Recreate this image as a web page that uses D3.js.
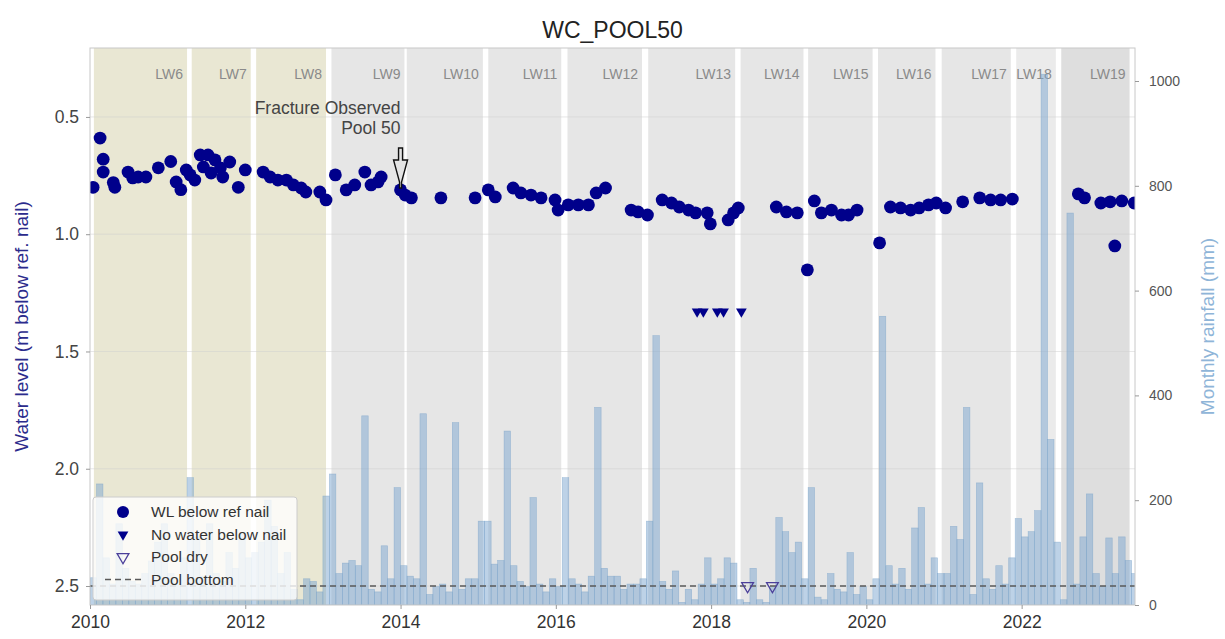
<!DOCTYPE html>
<html>
<head>
<meta charset="utf-8">
<script src="https://cdn.jsdelivr.net/npm/d3@7"></script>
<style>
  body { margin: 0; background: #fff; font-family: "Liberation Sans", Arial, sans-serif; }
</style>
</head>
<body>
<div id="chart"></div>
<script>
"use strict";

// longwall panels (decimal years)
const lwNames = ["LW6", "LW7", "LW8", "LW9", "LW10", "LW11", "LW12", "LW13", "LW14", "LW15", "LW16", "LW17", "LW18", "LW19"];
const lwStart = [2010.05, 2011.31, 2012.14, 2013.11, 2014.08, 2015.13, 2016.15, 2017.19, 2018.38, 2019.25, 2020.15, 2020.97, 2021.93, 2022.51];
const lwEnd   = [2011.25, 2012.07, 2013.04, 2014.05, 2015.06, 2016.07, 2017.11, 2018.31, 2019.19, 2020.08, 2020.89, 2021.86, 2022.44, 2023.39];

// water level below reference nail (m)
const wlDates = [2010.04, 2010.13, 2010.17, 2010.17, 2010.30, 2010.32, 2010.49, 2010.55, 2010.62, 2010.72, 2010.88,
  2011.04, 2011.11, 2011.17, 2011.24, 2011.29, 2011.35, 2011.42, 2011.46, 2011.52, 2011.56, 2011.61, 2011.68, 2011.71, 2011.80, 2011.91,
  2012.00, 2012.23, 2012.32, 2012.42, 2012.53, 2012.62, 2012.72, 2012.78, 2012.96, 2013.04, 2013.16, 2013.30, 2013.41, 2013.54, 2013.62, 2013.71, 2013.75,
  2014.00, 2014.06, 2014.14, 2014.52, 2014.96, 2015.13, 2015.22, 2015.45, 2015.55, 2015.68, 2015.81, 2015.99,
  2016.03, 2016.16, 2016.29, 2016.42, 2016.52, 2016.64, 2016.97, 2017.06, 2017.18, 2017.37, 2017.49, 2017.59, 2017.71, 2017.80, 2017.95, 2017.99,
  2018.22, 2018.29, 2018.35, 2018.84, 2018.97, 2019.11, 2019.24, 2019.33, 2019.42, 2019.55, 2019.68, 2019.77, 2019.88,
  2020.17, 2020.31, 2020.44, 2020.57, 2020.68, 2020.80, 2020.90, 2021.02, 2021.24, 2021.46, 2021.60, 2021.73, 2021.88,
  2022.73, 2022.81, 2023.02, 2023.14, 2023.20, 2023.29, 2023.45];
const wlValues = [0.80, 0.59, 0.68, 0.735, 0.78, 0.80, 0.735, 0.76, 0.756, 0.756, 0.717,
  0.69, 0.777, 0.81, 0.726, 0.747, 0.769, 0.662, 0.713, 0.662, 0.739, 0.683, 0.717, 0.756, 0.692, 0.80,
  0.726, 0.735, 0.756, 0.769, 0.769, 0.79, 0.803, 0.82, 0.82, 0.854, 0.747, 0.811, 0.79, 0.735, 0.79, 0.777, 0.756,
  0.811, 0.833, 0.845, 0.845, 0.845, 0.811, 0.841, 0.803, 0.824, 0.833, 0.845, 0.854,
  0.897, 0.875, 0.875, 0.875, 0.824, 0.803, 0.897, 0.905, 0.918, 0.854, 0.867, 0.884, 0.897, 0.909, 0.909, 0.956,
  0.939, 0.909, 0.888, 0.884, 0.905, 0.909, 1.152, 0.858, 0.909, 0.897, 0.918, 0.918, 0.897,
  1.037, 0.884, 0.888, 0.897, 0.888, 0.875, 0.867, 0.888, 0.862, 0.845, 0.854, 0.854, 0.850,
  0.828, 0.845, 0.867, 0.862, 1.050, 0.858, 0.867];

// no water below nail
const noWaterDates = [2017.82, 2017.90, 2018.08, 2018.16, 2018.39];
const noWaterValues = [1.33, 1.33, 1.33, 1.33, 1.33];

// pool dry
const poolDryDates = [2018.47, 2018.79];
const poolDryValues = [2.5, 2.5];

const poolBottom = 2.5;

// fracture observation
const fractureDate = 2014.0;
const fractureLabel = ["Fracture Observed", "Pool 50"];

// monthly rainfall (mm), Jan of each year first
const rain2010 = [52, 231, 90, 40, 155, 70, 45, 40, 60, 84, 120, 155];
const rain2011 = [60, 40, 90, 243, 130, 55, 155, 60, 45, 100, 70, 135];
const rain2012 = [90, 100, 120, 200, 150, 60, 100, 30, 10, 50, 45, 25];
const rain2013 = [208, 250, 60, 80, 85, 75, 361, 30, 25, 113, 50, 224];
const rain2014 = [75, 55, 50, 365, 20, 35, 40, 25, 348, 30, 50, 50];
const rain2015 = [160, 160, 78, 85, 332, 75, 45, 35, 205, 40, 25, 50];
const rain2016 = [35, 243, 50, 40, 25, 55, 377, 70, 55, 55, 30, 40];
const rain2017 = [40, 50, 160, 514, 45, 30, 65, 5, 30, 10, 40, 90];
const rain2018 = [40, 50, 90, 80, 10, 5, 70, 10, 5, 35, 167, 140];
const rain2019 = [100, 120, 50, 224, 15, 10, 60, 30, 25, 100, 20, 35];
const rain2020 = [10, 50, 551, 75, 40, 70, 30, 147, 186, 40, 90, 60];
const rain2021 = [60, 150, 125, 377, 20, 233, 50, 30, 75, 40, 90, 165];
const rain2022 = [130, 140, 180, 1013, 316, 120, 10, 748, 40, 130, 212, 60];
const rain2023 = [35, 128, 60, 130, 85, 60];

const xTicks = [2010, 2012, 2014, 2016, 2018, 2020, 2022];
const wlTicks = [0.5, 1.0, 1.5, 2.0, 2.5];
const rainTicks = [0, 200, 400, 600, 800, 1000];

// layout
const svgWidth = 1225, svgHeight = 639;
const margin = { top: 48, right: 90, bottom: 34, left: 90 },
    width = svgWidth - margin.left - margin.right,
    height = svgHeight - margin.top - margin.bottom;

const svg = d3.select("#chart").append("svg")
    .attr("width", svgWidth)
    .attr("height", svgHeight);

const plot = svg.append("g")
    .attr("transform", `translate(${margin.left},${margin.top})`);

svg.append("defs").append("clipPath").attr("id", "clip")
    .append("rect").attr("width", width).attr("height", height);

// scales
const x = d3.scaleLinear().domain([2010, 2023.46]).range([0, width]);
const yWL = d3.scaleLinear().domain([0.206, 2.581]).range([0, height]);
const yRain = d3.scaleLinear().domain([0, 1063]).range([height, 0]);

// longwall bands
const bands = plot.append("g");
lwNames.forEach((name, i) => {
    let fill = i < 3 ? "#e9e7d3" : "#e6e6e6";
    if (name === "LW18") fill = "#ebebeb";
    if (name === "LW19") fill = "#dedede";
    bands.append("rect")
        .attr("x", x(lwStart[i]))
        .attr("y", 0)
        .attr("width", x(lwEnd[i]) - x(lwStart[i]))
        .attr("height", height)
        .attr("fill", fill);
    bands.append("text")
        .attr("x", x(lwEnd[i]) - 4)
        .attr("y", 31)
        .attr("text-anchor", "end")
        .attr("font-size", 14)
        .attr("fill", "#8a8a8a")
        .text(name);
});

// gridlines
plot.append("g").selectAll("line")
    .data(wlTicks)
    .join("line")
    .attr("x1", 0).attr("x2", width)
    .attr("y1", d => yWL(d)).attr("y2", d => yWL(d))
    .attr("stroke", "#cfcfcf")
    .attr("stroke-width", 0.8)
    .attr("opacity", 0.6);

// rainfall bars
const rainfall = [].concat(rain2010, rain2011, rain2012, rain2013, rain2014, rain2015, rain2016,
    rain2017, rain2018, rain2019, rain2020, rain2021, rain2022, rain2023);
const barW = x(2010 + 1 / 12) - x(2010);

plot.append("g").attr("clip-path", "url(#clip)")
    .selectAll("rect")
    .data(rainfall)
    .join("rect")
    .attr("x", (d, i) => x(2010 + i / 12))
    .attr("y", d => yRain(d))
    .attr("width", barW)
    .attr("height", d => yRain(0) - yRain(d))
    .attr("fill", "#7ba6d0")
    .attr("fill-opacity", 0.5)
    .attr("stroke", "#7aa3c9")
    .attr("stroke-opacity", 0.6)
    .attr("stroke-width", 0.6);

// pool bottom
plot.append("line")
    .attr("x1", 0).attr("x2", width)
    .attr("y1", yWL(poolBottom)).attr("y2", yWL(poolBottom))
    .attr("stroke", "#5a5a5a")
    .attr("stroke-width", 1.3)
    .attr("stroke-dasharray", "6,4");

// water level points
const marks = plot.append("g").attr("clip-path", "url(#clip)");
marks.selectAll("circle")
    .data(wlDates.map((d, i) => [d, wlValues[i]]))
    .join("circle")
    .attr("cx", d => x(d[0]))
    .attr("cy", d => yWL(d[1]))
    .attr("r", 6.4)
    .attr("fill", "#00008b");

const tri = d3.symbol().type(d3.symbolTriangle);
marks.selectAll(".nowater")
    .data(noWaterDates.map((d, i) => [d, noWaterValues[i]]))
    .join("path")
    .attr("class", "nowater")
    .attr("d", tri.size(50))
    .attr("transform", d => `translate(${x(d[0])},${yWL(d[1])}) rotate(180)`)
    .attr("fill", "#00008b");

marks.selectAll(".dry")
    .data(poolDryDates.map((d, i) => [d, poolDryValues[i]]))
    .join("path")
    .attr("class", "dry")
    .attr("d", tri.size(60))
    .attr("transform", d => `translate(${x(d[0])},${yWL(d[1])}) rotate(180)`)
    .attr("fill", "none")
    .attr("stroke", "#4b3f9a")
    .attr("stroke-width", 1.3);

// fracture annotation
const fx = x(fractureDate);
plot.append("g").selectAll("text")
    .data(fractureLabel)
    .join("text")
    .attr("x", fx)
    .attr("y", (d, i) => 66 + i * 20)
    .attr("text-anchor", "end")
    .attr("font-size", 17.5)
    .attr("fill", "#444")
    .text(d => d);

const ay0 = 100, ay1 = 140;
plot.append("path")
    .attr("d", `M${fx - 2},${ay0} L${fx + 2},${ay0} L${fx + 2},${ay0 + 12} L${fx + 7},${ay0 + 12}
                L${fx + 1},${ay1 - 6} L${fx + 1},${ay1} L${fx - 1},${ay1} L${fx - 1},${ay1 - 6}
                L${fx - 7},${ay0 + 12} L${fx - 2},${ay0 + 12} Z`)
    .attr("fill", "#e4e4e4")
    .attr("stroke", "#111")
    .attr("stroke-width", 1.4)
    .attr("stroke-linejoin", "miter");

// frame
plot.append("rect")
    .attr("width", width).attr("height", height)
    .attr("fill", "none")
    .attr("stroke", "#c8c8c8");

// axes
const axisStyle = g => {
    g.select(".domain").remove();
    g.selectAll(".tick line").attr("stroke", "#999");
    g.selectAll(".tick text").attr("font-family", "Liberation Sans, Arial, sans-serif");
};

plot.append("g")
    .attr("transform", `translate(0,${height})`)
    .call(d3.axisBottom(x).tickValues(xTicks).tickFormat(d3.format("d")).tickSize(4).tickPadding(7))
    .call(axisStyle)
    .call(g => g.selectAll(".tick text").attr("font-size", 17.5).attr("fill", "#333"));

plot.append("g")
    .call(d3.axisLeft(yWL).tickValues(wlTicks).tickFormat(d3.format(".1f")).tickSize(4).tickPadding(7))
    .call(axisStyle)
    .call(g => g.selectAll(".tick text").attr("font-size", 17.5).attr("fill", "#444"));

plot.append("g")
    .attr("transform", `translate(${width},0)`)
    .call(d3.axisRight(yRain).tickValues(rainTicks).tickFormat(d3.format("d")).tickSize(4).tickPadding(10))
    .call(axisStyle)
    .call(g => g.selectAll(".tick text").attr("font-size", 14).attr("fill", "#555"));

// axis titles
svg.append("text")
    .attr("transform", `translate(28,${margin.top + height / 2}) rotate(-90)`)
    .attr("text-anchor", "middle")
    .attr("font-size", 19)
    .attr("fill", "#2b2b8c")
    .text("Water level (m below ref. nail)");

svg.append("text")
    .attr("transform", `translate(1214,${margin.top + height / 2}) rotate(-90)`)
    .attr("text-anchor", "middle")
    .attr("font-size", 19)
    .attr("fill", "#8fb5d8")
    .text("Monthly rainfall (mm)");

svg.append("text")
    .attr("x", margin.left + width / 2)
    .attr("y", 38)
    .attr("text-anchor", "middle")
    .attr("font-size", 23)
    .attr("fill", "#222")
    .text("WC_POOL50");

// legend
const legend = plot.append("g").attr("transform", "translate(3,449)");
legend.append("rect")
    .attr("width", 204).attr("height", 103)
    .attr("rx", 3)
    .attr("fill", "#fff").attr("fill-opacity", 0.8)
    .attr("stroke", "#ccc");

const legendItems = ["WL below ref nail", "No water below nail", "Pool dry", "Pool bottom"];
legendItems.forEach((label, i) => {
    const ly = 15 + i * 22.5;
    const item = legend.append("g").attr("transform", `translate(0,${ly})`);
    if (i === 0) item.append("circle").attr("cx", 30).attr("r", 6).attr("fill", "#00008b");
    if (i === 1) item.append("path").attr("d", tri.size(50)).attr("transform", "translate(30,0) rotate(180)").attr("fill", "#00008b");
    if (i === 2) item.append("path").attr("d", tri.size(60)).attr("transform", "translate(30,0) rotate(180)")
        .attr("fill", "none").attr("stroke", "#4b3f9a").attr("stroke-width", 1.3);
    if (i === 3) item.append("line").attr("x1", 12).attr("x2", 48)
        .attr("stroke", "#5a5a5a").attr("stroke-width", 1.3).attr("stroke-dasharray", "6,4");
    item.append("text")
        .attr("x", 58).attr("y", 5)
        .attr("font-size", 15.5)
        .attr("fill", "#333")
        .text(label);
});
</script>
</body>
</html>
